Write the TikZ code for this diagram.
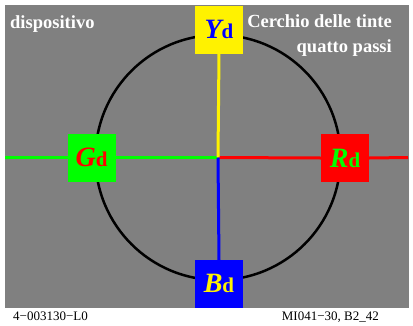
\documentclass[tikz,border=0pt]{standalone}
\usepackage{fontspec}
\setmainfont{Liberation Serif}
\begin{document}
\begin{tikzpicture}[x=1pt,y=-1pt,
  colbox/.style={minimum width=48pt,minimum height=48pt,inner sep=0pt,outer sep=0pt},
  axis/.style={line width=3pt},
  lbl/.style={text=white,font=\fontsize{18.5}{24}\selectfont\bfseries,inner sep=0pt}]
\useasboundingbox (0,0) rectangle (413,325);
\fill[white] (0,0) rectangle (413,325);
\fill[gray] (5,5) rectangle (409,307.5);
\coordinate (c) at (218,157.5);
\coordinate (le) at (5,157.5);
\coordinate (re) at (408,157.5);
\draw[line width=2.5pt] (c) circle (122.5);
\node[colbox,fill=yellow,text=blue] (Y) at (219,29.5) {{\fontsize{28}{28}\selectfont\bfseries\itshape Y}{\fontsize{21}{21}\selectfont\bfseries d}};
\node[colbox,fill=green,text=red] (G) at (91.5,157.5) {{\fontsize{28}{28}\selectfont\bfseries\itshape G}{\fontsize{21}{21}\selectfont\bfseries d}};
\node[colbox,fill=red,text=green] (R) at (345,158) {{\fontsize{28}{28}\selectfont\bfseries\itshape R}{\fontsize{21}{21}\selectfont\bfseries d}};
\node[colbox,fill=blue,text=yellow,minimum height=47.5pt] (B) at (219,283.75) {{\fontsize{28}{28}\selectfont\bfseries\itshape B}{\fontsize{21}{21}\selectfont\bfseries d}};
\draw[axis,green] (le) -- (G.west);
\draw[axis,green] (G.east) -- (c);
\draw[axis,red] (c) -- (R.west);
\draw[axis,red] (R.east) -- (re);
\draw[axis,yellow] (Y.south) -- (c);
\draw[axis,blue] (c) -- (B.north);
\node[lbl,anchor=base west] (dev) at (10,28) {dispositivo};
\node[lbl,anchor=base east] (title1) at (392,27) {Cerchio delle tinte};
\node[lbl,anchor=base east] (title2) at (392,52) {quatto passi};
\node[anchor=base west,inner sep=0pt,font=\fontsize{13}{13}\selectfont] (code1) at (13,320.5) {4−003130−L0};
\node[anchor=base east,inner sep=0pt,font=\fontsize{13}{13}\selectfont] (code2) at (379,320.5) {MI041−30, B2\_42};
\end{tikzpicture}
\end{document}
